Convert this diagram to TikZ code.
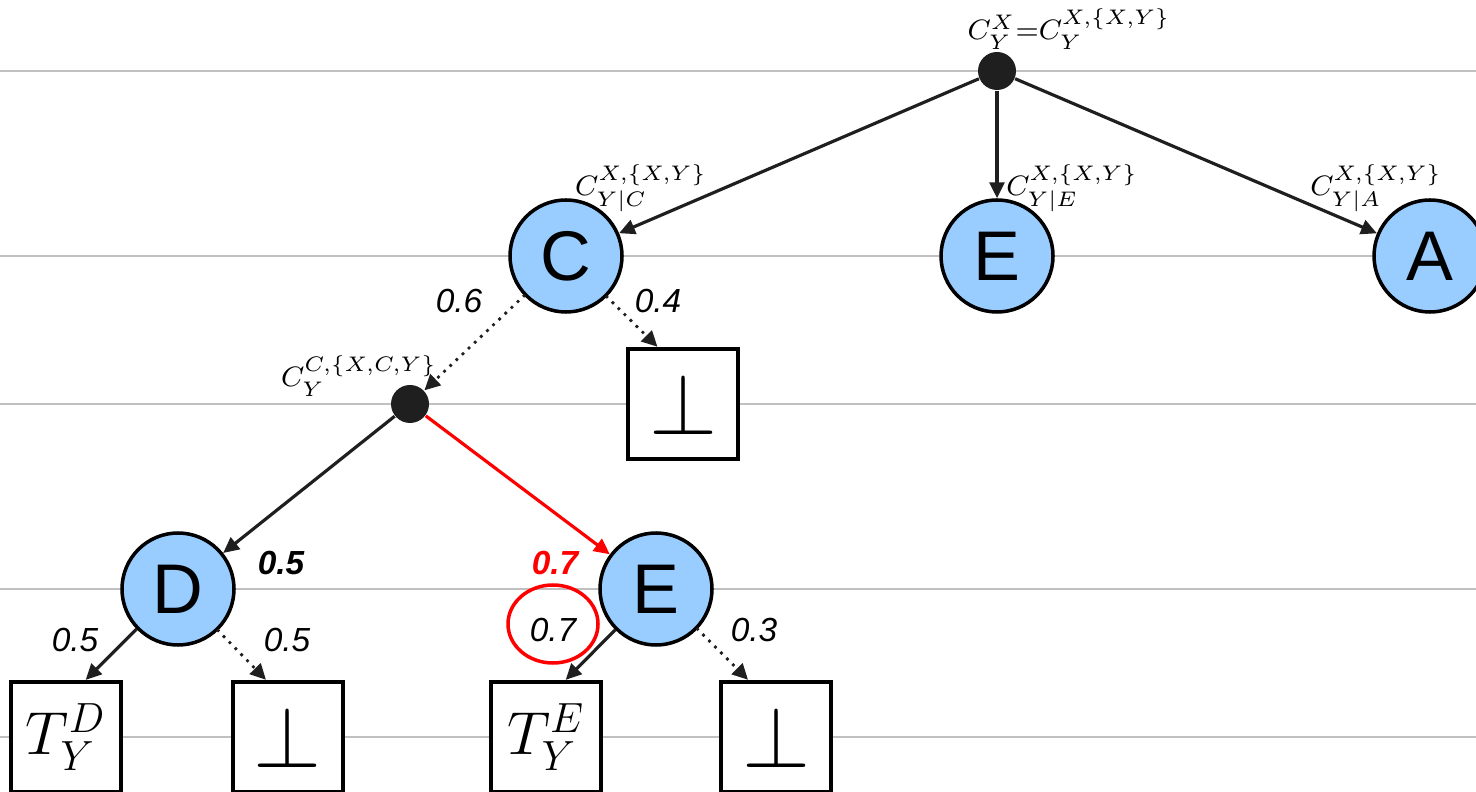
\documentclass[tikz,border=0pt]{standalone}
\usepackage{amsmath, amssymb}
\usepackage{fontspec}
\usepackage{xcolor}
\usepackage{tikz}
\usetikzlibrary{arrows.meta,shapes.geometric}
\newfontfamily\arialfont{Liberation Sans}
\definecolor{varblue}{HTML}{99CCFF}
\definecolor{dotgray}{HTML}{1F1F1F}
\definecolor{levelgray}{HTML}{C0C0C0}

\begin{document}
\begin{tikzpicture}[
  >={Triangle[length=4.5pt,width=4.2pt]},
  level/.style={draw=levelgray, line width=0.6pt},
  var/.style={
    circle,
    draw,
    line width=1pt,
    fill=varblue,
    minimum size=1.12cm,
    inner sep=0pt,
    font=\arialfont\fontsize{20}{20}\selectfont
  },
  chance/.style={circle, fill=dotgray, minimum size=0.38cm, inner sep=0pt},
  leaf/.style={draw, line width=1.2pt, fill=white, minimum size=1.1cm, inner sep=0pt},
  prob/.style={font=\arialfont\itshape\fontsize{9.5}{10}\selectfont},
  bprob/.style={font=\arialfont\bfseries\itshape\fontsize{9.5}{10}\selectfont},
  cost/.style={inner sep=0pt, font=\fontsize{8}{9}\selectfont},
  edge/.style={->, draw=dotgray, line width=0.9pt},
  nulledge/.style={edge, line width=1.1pt, line cap=round, dash pattern=on 0pt off 2.4pt}
]

\useasboundingbox (0,0) rectangle (14.76,-7.92);
\fill[white] (0,0) rectangle (14.76,-7.92);

% levels
\foreach \y in {0.71,2.56,4.04,5.89,7.37}
  \draw[level] (0,-\y) -- (14.76,-\y);

% top level
\node[chance] (root) at (9.97,-0.71) {};
\node[cost] (rootlbl) at (10.69,-0.29) {$C_Y^X{=}C_Y^{X,\{X,Y\}}$};

\node[var] (c) at (5.66,-2.56) {C};
\node[var] (e) at (9.97,-2.56) {E};
\node[var] (a) at (14.30,-2.56) {A};

\node[cost] (clbl) at (6.41,-1.88) {$C_{Y|C}^{X,\{X,Y\}}$};
\node[cost] (elbl) at (10.72,-1.88) {$C_{Y|E}^{X,\{X,Y\}}$};
\node[cost] (albl) at (13.76,-1.88) {$C_{Y|A}^{X,\{X,Y\}}$};

\draw[edge] (root) -- (c);
\draw[edge] (root) -- (e);
\draw[edge] (root) -- (a);

% below C
\node[chance] (mid) at (4.10,-4.04) {};
\node[cost] (midlbl) at (3.59,-3.76) {$C_Y^{C,\{X,C,Y\}}$};
\node[leaf] (nc) at (6.83,-4.04) {\fontsize{24}{24}\selectfont$\perp$};

\node[prob] (pc1) at (4.59,-3.01) {0.6};
\node[prob] (pc2) at (6.58,-3.01) {0.4};

\draw[nulledge] (c) -- (mid);
\draw[nulledge] (c.-45) -- (nc.114);

% D and E
\node[var] (d) at (1.78,-5.89) {D};
\node[var] (e2) at (6.56,-5.89) {E};

\node[bprob] (pd) at (2.81,-5.63) {0.5};
\node[bprob, text=red] (pe) at (5.55,-5.63) {0.7};

\draw[edge] (mid) -- (d);
\draw[edge, draw=red] (mid) -- (e2);

% leaves
\node[leaf] (td) at (0.66,-7.37) {\fontsize{17.4}{18}\selectfont$T_Y^D$};
\node[leaf] (nd) at (2.88,-7.37) {\fontsize{24}{24}\selectfont$\perp$};
\node[leaf] (te) at (5.46,-7.37) {\fontsize{17.4}{18}\selectfont$T_Y^E$};
\node[leaf] (ne) at (7.76,-7.37) {\fontsize{24}{24}\selectfont$\perp$};

\node[prob] (pd1) at (0.75,-6.40) {0.5};
\node[prob] (pd2) at (2.87,-6.40) {0.5};
\node[prob] (pe1) at (5.53,-6.30) {0.7};
\node[prob] (pe2) at (7.54,-6.30) {0.3};
\node[ellipse, draw=red, line width=1pt, minimum width=0.9cm, minimum height=0.78cm] (ring) at (5.53,-6.24) {};

\draw[edge] (d.224) -- (td.71);
\draw[nulledge] (d.-46) -- (nd.111);
\draw[edge] (e2.225) -- (te.71);
\draw[nulledge] (e2.-44) -- (ne.116);

\end{tikzpicture}
\end{document}
